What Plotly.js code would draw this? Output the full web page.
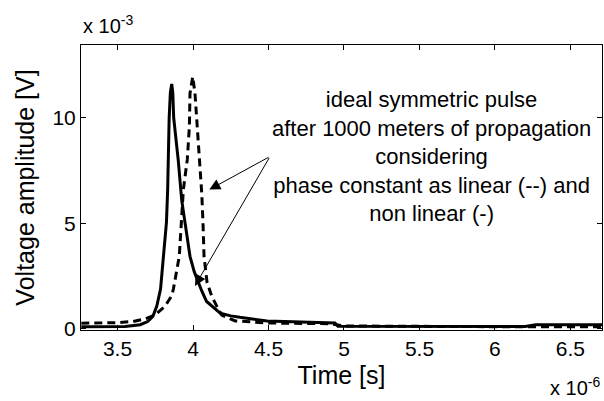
<!DOCTYPE html>
<html>
<head>
<meta charset="utf-8">
<script src="https://cdn.plot.ly/plotly-3.0.1.min.js"></script>
<style>
html,body{margin:0;padding:0;background:#fff;}
#chart{width:604px;height:401px;}
</style>
</head>
<body>
<div id="chart"></div>
<script>
// Time in units of 1e-6 s, voltage in units of 1e-3 V (as shown on the axes)
var tNonLinear = [3.26, 3.40, 3.55, 3.65, 3.70, 3.735, 3.76, 3.785, 3.806, 3.824, 3.832, 3.835, 3.842, 3.850, 3.859, 3.866, 3.872, 3.890, 3.902, 3.925, 3.935, 3.947, 3.980, 4.009, 4.046, 4.058, 4.090, 4.124, 4.180, 4.250, 4.310, 4.490, 4.710, 4.940, 4.960, 5.300, 5.800, 6.200, 6.270, 6.500, 6.710];
var vNonLinear = [0.10, 0.10, 0.12, 0.20, 0.35, 0.61, 1.08, 1.89, 3.44, 5.05, 6.60, 8.00, 10.0, 11.2, 11.6, 11.2, 10.0, 8.80, 8.00, 6.10, 5.60, 5.05, 3.44, 2.69, 1.95, 1.80, 1.30, 1.08, 0.75, 0.62, 0.55, 0.38, 0.33, 0.28, 0.13, 0.12, 0.12, 0.12, 0.20, 0.20, 0.20];

var tLinear = [3.26, 3.50, 3.60, 3.680, 3.748, 3.815, 3.859, 3.870, 3.909, 3.936, 3.962, 3.976, 3.980, 3.998, 4.013, 4.028, 4.042, 4.058, 4.066, 4.073, 4.093, 4.124, 4.157, 4.190, 4.280, 4.500, 4.900, 5.000, 6.200, 6.710];
var vLinear = [0.27, 0.30, 0.35, 0.47, 0.66, 1.08, 1.57, 1.89, 3.44, 6.60, 8.02, 9.59, 11.16, 11.95, 11.16, 9.59, 8.02, 6.40, 5.05, 3.44, 2.20, 1.55, 1.08, 0.66, 0.38, 0.28, 0.25, 0.14, 0.10, 0.10];

var xTicks = [3.5, 4, 4.5, 5, 5.5, 6, 6.5];
var xTickText = ['3.5', '4', '4.5', '5', '5.5', '6', '6.5'];
var yTicks = [0, 5, 10];
var yTickText = ['0', '5', '10'];

var noteLines = ['ideal symmetric pulse', 'after 1000 meters of propagation', 'considering', 'phase constant as linear (--) and', 'non linear (-)'];

var traces = [
  {x: tNonLinear, y: vNonLinear, type: 'scatter', mode: 'lines', name: 'non linear',
   line: {color: '#000', width: 3}},
  {x: tLinear, y: vLinear, type: 'scatter', mode: 'lines', name: 'linear',
   line: {color: '#000', width: 3, dash: '8px,5px'}}
];

var fontFam = 'Liberation Sans, Arial, sans-serif';
var layout = {
  width: 604, height: 401,
  margin: {l: 81, r: 2, t: 45, b: 71},
  paper_bgcolor: '#fff', plot_bgcolor: '#fff',
  showlegend: false,
  font: {family: fontFam, color: '#000', size: 20},
  xaxis: {
    range: [3.258, 6.709], tickvals: xTicks, ticktext: xTickText,
    ticks: 'inside', ticklen: 5, tickcolor: '#000', tickwidth: 1,
    showline: true, linecolor: '#000', linewidth: 1, mirror: 'ticks',
    showgrid: false, zeroline: false,
    tickfont: {size: 21, family: fontFam},
    title: {text: 'Time [s]', font: {size: 25, family: fontFam}, standoff: 7}
  },
  yaxis: {
    range: [-0.05, 13.45], tickvals: yTicks, ticktext: yTickText,
    ticks: 'inside', ticklen: 5, tickcolor: '#000', tickwidth: 1,
    showline: true, linecolor: '#000', linewidth: 1, mirror: 'ticks',
    showgrid: false, zeroline: false,
    tickfont: {size: 21, family: fontFam},
    title: {text: 'Voltage amplitude [V]', font: {size: 25, family: fontFam}, standoff: 10}
  },
  annotations: [
    {xref: 'paper', yref: 'paper', x: 0, y: 1, xanchor: 'left', yanchor: 'bottom', yshift: 6,
     text: 'x 10<sup>-3</sup>', showarrow: false, font: {size: 20, family: fontFam}},
    {xref: 'paper', yref: 'paper', x: 1, y: 0, xanchor: 'right', yanchor: 'top', yshift: -42,
     text: 'x 10<sup>-6</sup>', showarrow: false, font: {size: 20, family: fontFam}},
    {xref: 'x', yref: 'y', x: 5.58, y: 8.16, xanchor: 'center', yanchor: 'middle',
     text: noteLines.join('<br>'), showarrow: false, align: 'center', font: {size: 22, family: fontFam}},
    {xref: 'x', yref: 'y', x: 4.108, y: 6.6, axref: 'x', ayref: 'y', ax: 4.51, ay: 8.17,
     text: '', showarrow: true, arrowhead: 2, arrowsize: 2.2, arrowwidth: 1, arrowcolor: '#000'},
    {xref: 'x', yref: 'y', x: 4.013, y: 2.04, axref: 'x', ayref: 'y', ax: 4.51, ay: 8.17,
     text: '', showarrow: true, arrowhead: 2, arrowsize: 2.2, arrowwidth: 1, arrowcolor: '#000'}
  ]
};

Plotly.newPlot('chart', traces, layout, {displayModeBar: false, staticPlot: true});
</script>
</body>
</html>
